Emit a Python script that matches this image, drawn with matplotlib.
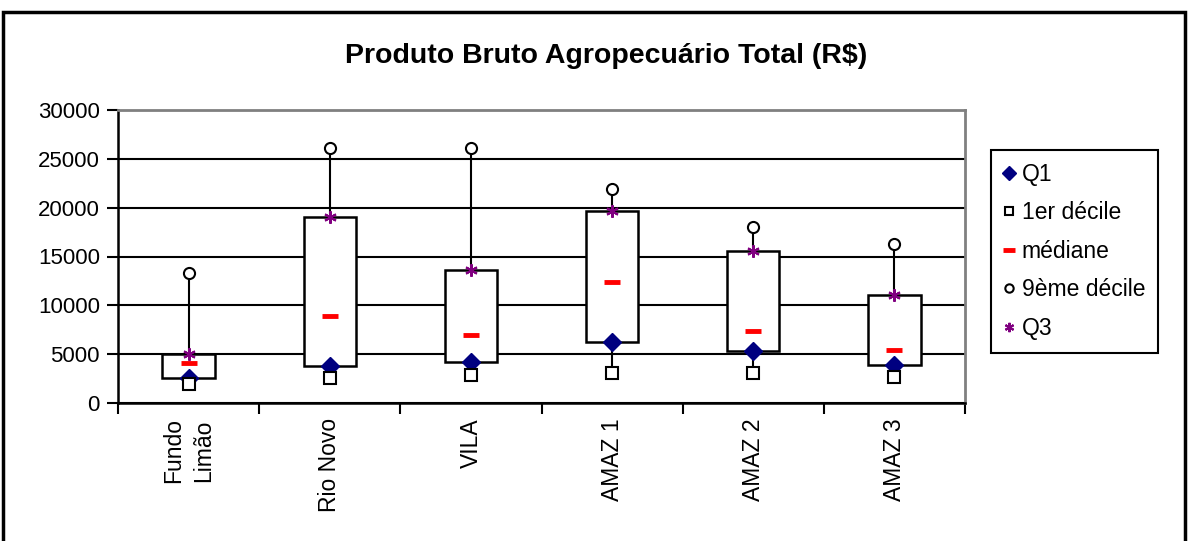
import matplotlib.pyplot as plt
import matplotlib.patches as mpatches
import numpy as np

plt.rcParams['font.family'] = ['Liberation Sans', 'DejaVu Sans']

sites = ["Fundo\nLimão", "Rio Novo", "VILA", "AMAZ 1", "AMAZ 2", "AMAZ 3"]
decile1 = [1950, 2530, 2870, 3110, 3040, 2700]
q1 = [2600, 3800, 4150, 6250, 5280, 3900]
median = [4070, 8910, 6940, 12400, 7380, 5430]
q3 = [5050, 19050, 13600, 19620, 15530, 11100]
decile9 = [13350, 26160, 26160, 21890, 18000, 16260]

fig = plt.figure(figsize=(11.88, 5.41), dpi=100)
ax = fig.add_axes([118 / 1188, 1 - 403 / 541, 847 / 1188, 293 / 541])

# outer frame of the chart
fig.patches.append(mpatches.Rectangle((3 / 1188, -0.01), 1182 / 1188, 1 - 12 / 541 + 0.01,
                                      transform=fig.transFigure, fill=False,
                                      edgecolor='black', linewidth=2.5))

x = np.arange(len(sites))
for i in range(len(sites)):
    ax.plot([x[i], x[i]], [decile1[i], decile9[i]], color='black', linewidth=1.5, zorder=2)
    ax.add_patch(mpatches.Rectangle((x[i] - 0.185, q1[i]), 0.37, q3[i] - q1[i],
                                    facecolor='white', edgecolor='black', linewidth=1.8, zorder=3))

ax.plot(x, q1, linestyle='none', marker='D', color='#000080', markersize=9, label='Q1', zorder=5)
ax.plot(x, decile1, linestyle='none', marker='s', markerfacecolor='white', markeredgecolor='black',
        markersize=8, markeredgewidth=1.5, label='1er décile', zorder=5)
ax.plot(x, median, linestyle='none', marker='_', color='red', markersize=12, markeredgewidth=3.5,
        label='médiane', zorder=5)
ax.plot(x, decile9, linestyle='none', marker='o', markerfacecolor='white', markeredgecolor='black',
        markersize=8, markeredgewidth=1.5, label='9ème décile', zorder=5)
ax.plot(x, q3, linestyle='none', marker=(6, 2, 0), color='#800080', markersize=9, markeredgewidth=1.5,
        label='Q3', zorder=5)

ax.set_xlim(-0.5, len(sites) - 0.5)
ax.set_ylim(0, 30000)
ax.set_yticks(range(0, 30001, 5000))
ax.yaxis.grid(True, color='black', linewidth=1.5)
ax.set_axisbelow(True)

ax.set_xticks(np.arange(-0.5, len(sites)))
ax.set_xticklabels([])
ax.set_xticks(x, minor=True)
ax.set_xticklabels(sites, minor=True, rotation=90, fontsize=16.5, linespacing=1.35)
ax.tick_params(axis='x', which='major', length=8, width=1.5, direction='out')
ax.tick_params(axis='x', which='minor', length=0, pad=11)
ax.tick_params(axis='y', length=8, width=1.5, labelsize=16, pad=5)

for s in ['left', 'bottom']:
    ax.spines[s].set_linewidth(1.8)
for s in ['top', 'right']:
    ax.spines[s].set_color('#808080')
    ax.spines[s].set_linewidth(2)

fig.text(606 / 1188, 1 - 56 / 541, "Produto Bruto Agropecuário Total (R$)", ha='center', va='center',
         fontsize=20.5, fontweight='bold')

leg = ax.legend(loc='upper left', bbox_to_anchor=(991 / 1188, 1 - 150 / 541), bbox_transform=fig.transFigure,
                fontsize=16.5, frameon=True, fancybox=False, edgecolor='black', framealpha=1,
                handlelength=0.5, handletextpad=0.3, labelspacing=0.68, borderpad=0.55,
                borderaxespad=0, markerscale=0.75)
leg.get_frame().set_linewidth(1.5)

fig.savefig("out.png", dpi=100)
